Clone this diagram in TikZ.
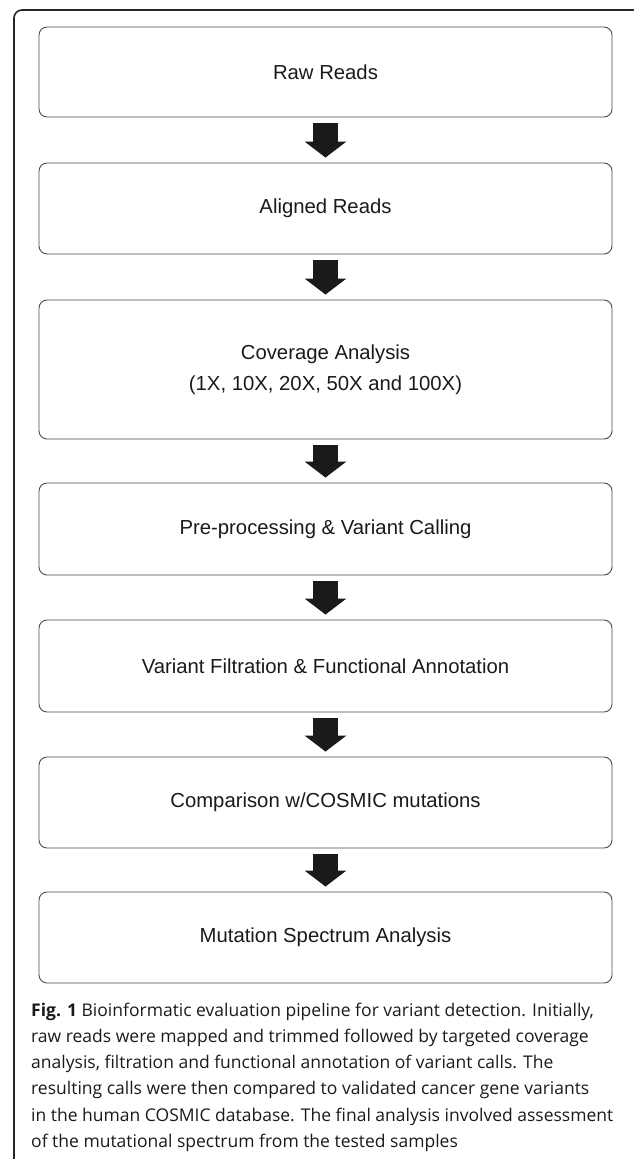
\documentclass[tikz,border=0pt]{standalone}
\usepackage{fontspec}
\setmainfont{Liberation Sans}
\newfontfamily\capfont{Open Sans}
\usetikzlibrary{arrows.meta}
\definecolor{ink}{HTML}{1A1A1A}
\definecolor{boxline}{HTML}{4A4A4A}
\tikzset{
  stepbox/.style={draw=boxline, line width=0.9pt, rounded corners=8pt,
    minimum width=573pt, inner sep=0pt, align=center, text=ink,
    font=\fontsize{20.3}{31}\selectfont},
  bigarrow/.style={draw=ink, line width=25pt,
    -{Triangle[width=41pt,length=16pt]}},
  frameline/.style={draw=black!85, line width=1.6pt, rounded corners=8pt}
}
\begin{document}
\begin{tikzpicture}[x=1pt,y=1pt]
\useasboundingbox (0,0) rectangle (633,-1159);
% outer figure frame
\draw[frameline] (14,-1170) -- (14,-10) -- (641,-10) -- (641,-40);
% pipeline steps
\node[stepbox, minimum height=90pt]  (raw)  at (325.5,-72)    {Raw Reads};
\node[stepbox, minimum height=91pt]  (aln)  at (325.5,-208.5) {Aligned Reads};
\node[stepbox, minimum height=139pt] (cov)  at (325.5,-369.5) {Coverage Analysis\\(1X, 10X, 20X, 50X and 100X)};
\node[stepbox, minimum height=92pt]  (pre)  at (325.5,-529)   {Pre-processing \& Variant Calling};
\node[stepbox, minimum height=92pt]  (filt) at (325.5,-666)   {Variant Filtration \& Functional Annotation};
\node[stepbox, minimum height=91pt]  (cmp)  at (325.5,-802.5) {Comparison w/COSMIC mutations};
\node[stepbox, minimum height=91pt]  (spec) at (325.5,-937.5) {Mutation Spectrum Analysis};
% arrows between steps
\foreach \a/\b in {raw/aln, aln/cov, cov/pre, pre/filt, filt/cmp, cmp/spec}
  \draw[bigarrow] ([yshift=-6pt]\a.south) -- ([yshift=5pt]\b.north);
% caption, pinned by the baseline of its last line
\node[anchor=base west, inner sep=0pt, text=ink, align=left,
  font=\capfont\fontsize{17.5}{26.3}\selectfont] (cap) at (31,-1147.5)
  {\textbf{Fig. 1} Bioinformatic evaluation pipeline for variant detection. Initially,\\
   raw reads were mapped and trimmed followed by targeted coverage\\
   analysis, filtration and functional annotation of variant calls. The\\
   resulting calls were then compared to validated cancer gene variants\\
   in the human COSMIC database. The final analysis involved assessment\\
   of the mutational spectrum from the tested samples};
\end{tikzpicture}
\end{document}
